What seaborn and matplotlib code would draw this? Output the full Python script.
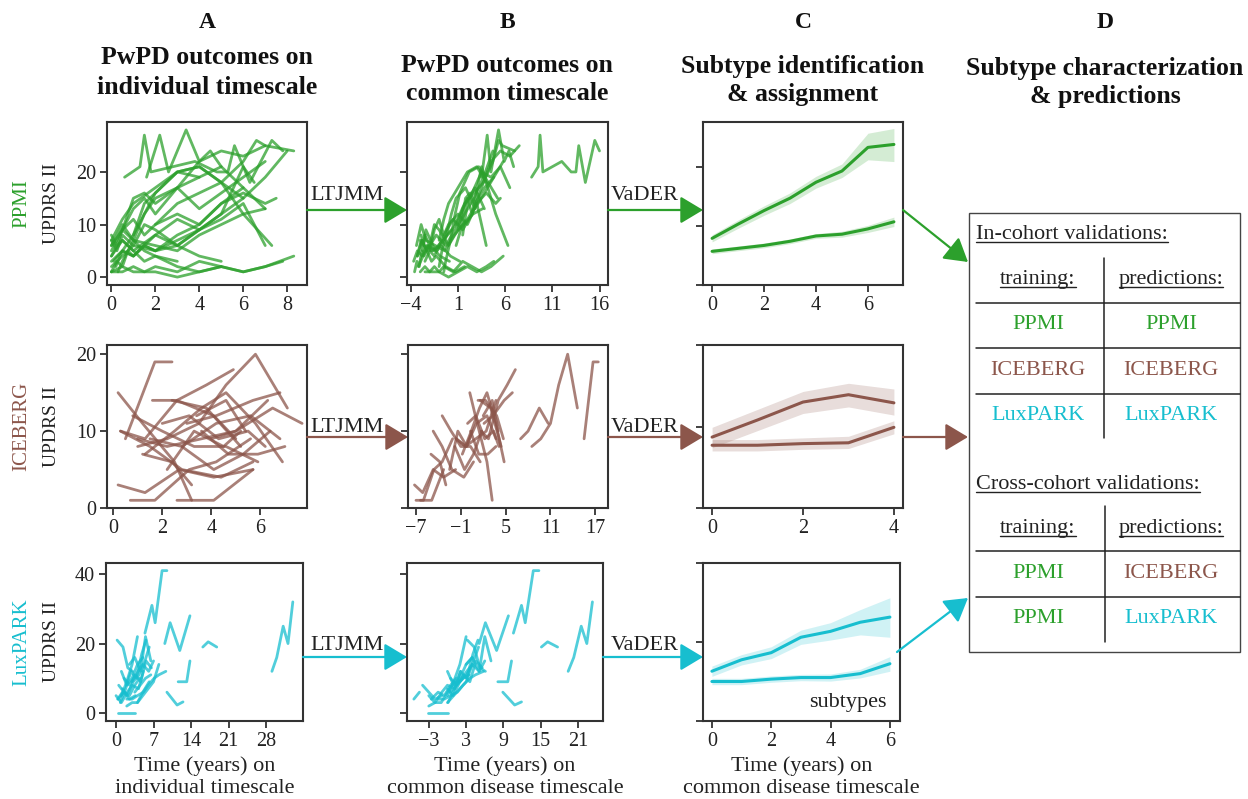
import numpy as np
import pandas as pd
import matplotlib
matplotlib.use("Agg")
import matplotlib.pyplot as plt
import seaborn as sns
from matplotlib.patches import FancyArrowPatch, Rectangle
from matplotlib.lines import Line2D

# ---------------- data ----------------
cohorts = ["PPMI", "ICEBERG", "LuxPARK"]
colors = {"PPMI": "#2ca02c", "ICEBERG": "#8c564b", "LuxPARK": "#17becf"}

ppmi_t = [
    [0, 0.25, 0.5, 0.75, 1, 1.5, 2, 3, 4],
    [0, 0.5, 1, 1.5, 2, 3, 4, 5, 6, 7, 8.3],
    [0, 0.25, 0.5, 1, 1.5, 2, 3],
    [0.1, 0.5, 1, 1.5, 2, 3, 4, 5],
    [0, 0.5, 1, 2, 3, 4, 5, 6, 7, 7.8],
    [0, 0.25, 0.5, 1, 2, 3, 4, 5, 6, 7],
    [0, 0.5, 1, 1.5, 2, 3, 4, 5],
    [0, 0.5, 1, 1.5, 2, 3, 4, 5, 6, 7, 7.5],
    [0.2, 0.5, 1, 1.5, 2, 3, 4, 5, 6, 7],
    [0, 0.5, 1, 2, 3, 4, 5, 6, 7.3],
    [0, 0.25, 0.5, 1, 2, 3, 4, 5, 6, 7, 8],
    [0.3, 0.5, 1, 1.5, 2, 3, 4, 5, 6],
    [0, 0.5, 1, 2, 3, 4, 5, 6, 6.5],
    [0.5, 1, 1.5, 2, 3, 4, 5, 6, 7],
    [1.6, 2.2, 2.6, 3.4, 4.0, 4.5, 5.0],
    [0.6, 1.3, 1.5, 1.8, 2.8, 3.8, 4.8, 5.3, 5.6, 6.3, 7.3, 7.8],
    [2, 3, 4, 5, 6, 6.6, 7, 8.3],
    [1, 1.5, 2, 3, 4, 5, 6],
    [0, 0.5, 1, 1.5, 2, 3, 4],
    [0, 0.5, 1, 2, 3, 4, 5, 6, 7],
    [0, 0.25, 0.5, 1, 1.5, 2, 3, 4, 5, 6, 7],
]
ppmi_y = [
    [1, 3, 2, 5, 4, 6, 5, 7, 9],
    [1, 1, 2, 1, 2, 1, 3, 2, 1, 2, 4],
    [8, 6, 9, 7, 5, 4, 3],
    [3, 5, 4, 6, 5, 6, 4, 3],
    [1, 2, 1, 1, 0, 1, 2, 1, 2, 3],
    [6, 8, 10, 7, 6, 5, 8, 10, 12, 13],
    [4, 7, 5, 3, 4, 2, 1, 2],
    [5, 9, 11, 8, 10, 12, 10, 14, 16, 14, 15],
    [2, 5, 8, 12, 15, 17, 13, 16, 19, 22],
    [7, 11, 14, 17, 20, 21, 18, 12, 6],
    [4, 6, 7, 5, 8, 6, 9, 12, 15, 19, 24],
    [1, 3, 7, 12, 16, 20, 21, 18, 15],
    [3, 5, 4, 8, 11, 9, 12, 21, 18],
    [9, 13, 15, 12, 17, 22, 24, 23, 25],
    [19, 27, 20, 28, 22, 24, 21],
    [19, 21, 27, 20, 21, 22, 20, 20, 25, 18, 26, 24],
    [10, 14, 16, 18, 22, 26, 25, 24],
    [8, 14, 16, 20, 19, 21, 17],
    [6, 9, 15, 16, 14, 17, 19],
    [2, 4, 6, 5, 8, 10, 14, 17, 13],
    [7, 5, 8, 6, 10, 9, 6, 9, 11, 14, 6],
]
ppmi_shift = [-3.6, -2.5, -2.9, -3.8, -3.0, -3.4, -3.3, -2.0, -1.2, -1.0, -3.3,
              -0.8, -2.5, 0.5, 1.9, 8.2, -1.3, 0.5, 0.8, -3.2, -3.0]

iceberg_t = [
    [0.2, 1.2, 2.5, 3.2],
    [0.5, 1.7, 2.4],
    [0.2, 1.3, 2.7, 4.1, 5.7],
    [0.7, 1.7, 3.1, 4.2, 5.6],
    [0.3, 1.3, 2.6, 3.8, 4.9],
    [1.6, 2.6, 4.1, 5.0],
    [1.0, 2.2, 3.5, 4.6, 5.8, 7.1],
    [2.6, 4.1, 5.7],
    [4.0, 5.0, 6.5, 7.7],
    [1.3, 2.5, 3.6, 4.6, 5.8, 6.9],
    [0.3, 1.5, 2.8, 4.4, 5.7],
    [1.5, 2.8, 4.2, 5.6, 6.8],
    [2.2, 3.3, 4.5, 5.2],
    [1.2, 2.4, 3.2],
    [3.0, 4.2, 5.7, 6.8],
    [2.0, 3.1, 4.3, 5.5, 6.2],
    [0.8, 2.0, 3.3, 4.6, 5.9],
    [2.8, 4.1, 5.3, 6.4],
    [3.4, 4.6, 5.4],
    [1.0, 2.2, 3.6, 5.0, 6.3],
    [3.6, 4.7, 5.9, 7.0],
    [2.4, 3.8, 5.2],
]
iceberg_y = [
    [15, 11, 6, 1],
    [9, 19, 19],
    [3, 2, 5, 4, 5],
    [1, 1, 5, 6, 9],
    [10, 9, 14, 16, 18],
    [14, 14, 12, 9],
    [8, 9, 11, 16, 20, 13],
    [1, 1, 5],
    [9, 10, 13, 11],
    [7, 10, 13, 15, 11, 6],
    [10, 8, 5, 4, 6],
    [9, 8, 11, 12, 9],
    [5, 10, 8, 10],
    [7, 6, 3],
    [11, 12, 14, 15],
    [11, 12, 9, 10, 8],
    [12, 10, 8, 8, 6],
    [8, 5, 7, 10],
    [12, 14, 10],
    [9, 8, 9, 10, 14],
    [10, 7, 7, 8],
    [14, 13, 8],
]
iceberg_shift = [0.0, 15.0, -7.4, -7.7, 1.4, -0.3, 7.5, -9.0, 3.0, -2.1, -5.0,
                 -3.1, -4.7, -6.2, -0.9, -2.1, -4.3, -4.6, -1.4, -2.6, -3.3, -0.8]

lux_t = [
    [0.2, 1.3, 2.2, 3.1],
    [0.4, 1.5, 2.5, 3.5, 4.4],
    [1.0, 2.0, 3.0, 4.0],
    [2.5, 3.5, 4.6, 5.5, 6.5],
    [0.0, 1.0, 2.1, 3.0, 4.2, 5.1],
    [1.5, 2.5, 3.6, 4.6, 5.6, 6.6],
    [0.5, 1.5, 2.5, 3.6],
    [2.0, 3.0, 4.0, 5.1, 6.0, 7.1, 8.0, 9.3],
    [3.0, 4.1, 5.0, 6.1, 7.0],
    [1.2, 2.1, 3.2, 4.3, 5.2, 6.2],
    [0.3, 1.2],
    [4.0, 5.0, 6.0, 7.0, 8.0],
    [0.3, 1.5, 2.5, 3.6],
    [2.0, 3.0, 4.0, 5.0, 6.2],
    [3.5, 4.5, 5.5, 6.5],
    [1.0, 2.0, 3.0, 4.0, 5.0],
    [0.8, 1.8, 2.8, 3.8, 4.8, 5.6],
    [5.4, 6.7, 7.3, 8.6, 9.5],
    [9.1, 10.1, 11.9, 13.8],
    [16.2, 17.2, 18.8],
    [11.6, 13.2, 13.8],
    [9.5, 11.4, 12.5],
    [29.1, 30.0, 31.2, 32.1, 33.0],
]
lux_y = [
    [21, 19, 13, 12],
    [4, 6, 5, 8, 10],
    [5, 9, 14, 22],
    [14, 16, 12, 22, 15],
    [5, 3, 6, 8, 7, 12],
    [10, 8, 11, 9, 15, 13],
    [8, 6, 4, 5],
    [4, 4, 5, 6, 8, 10, 11, 12],
    [9, 12, 14, 12, 15],
    [7, 5, 9, 11, 14, 19],
    [4, 6],
    [3, 5, 7, 9, 14],
    [0, 0, 0, 0],
    [2, 3, 3, 6, 9],
    [6, 8, 10, 11],
    [12, 8, 10, 14, 16],
    [3, 7, 12, 10, 17, 21],
    [23, 31, 26, 41, 41],
    [20, 26, 18, 28],
    [19, 20.5, 19],
    [9, 9, 15],
    [6, 2.3, 3.2],
    [12, 16, 25, 20, 32],
]
lux_shift = [3.0, -3.0, -1.0, 0.5, -3.0, -1.0, -4.5, -3.5, -1.0, -1.2, -5.7, -4.0,
             -3.5, -5.0, -3.0, -1.0, -0.7, 5.2, -4.0, -1.1, -3.5, -0.6, -9.7]

# subtype mean trajectories (VaDER) with confidence bands
ppmi_sub_t = [0, 1, 2, 3, 4, 5, 6, 7]
ppmi_fast = [7.9, 10.3, 12.6, 14.7, 17.4, 19.3, 23.3, 23.8]
ppmi_fast_lo = [7.3, 9.6, 11.8, 13.8, 16.4, 18.2, 21.2, 20.9]
ppmi_fast_hi = [8.5, 11.0, 13.4, 15.6, 18.4, 20.5, 25.7, 26.5]
ppmi_slow = [5.7, 6.2, 6.7, 7.4, 8.3, 8.6, 9.5, 10.7]
ppmi_slow_lo = [5.3, 5.8, 6.3, 7.0, 7.9, 8.1, 8.9, 9.9]
ppmi_slow_hi = [6.1, 6.6, 7.1, 7.8, 8.7, 9.1, 10.1, 11.5]

iceberg_sub_t = [0, 1, 2, 3, 4]
iceberg_fast = [8.7, 10.8, 13.0, 13.9, 12.9]
iceberg_fast_lo = [7.4, 9.5, 11.6, 12.4, 11.4]
iceberg_fast_hi = [9.9, 12.1, 14.3, 15.3, 14.6]
iceberg_slow = [7.7, 7.7, 7.9, 8.0, 9.9]
iceberg_slow_lo = [7.0, 7.0, 7.2, 7.3, 9.1]
iceberg_slow_hi = [8.4, 8.4, 8.6, 8.8, 10.7]

lux_sub_t = [0, 1, 2, 3, 4, 5, 6]
lux_fast = [12.6, 15.5, 17.3, 21.2, 22.7, 25.0, 26.3]
lux_fast_lo = [11.3, 14.2, 15.8, 19.4, 20.5, 21.8, 21.2]
lux_fast_hi = [13.9, 16.8, 18.8, 23.0, 24.9, 28.2, 31.2]
lux_slow = [10.0, 10.0, 10.6, 11.0, 11.0, 12.0, 14.5]
lux_slow_lo = [9.2, 9.2, 9.8, 10.2, 10.1, 10.9, 12.6]
lux_slow_hi = [10.8, 10.8, 11.4, 11.8, 11.9, 13.1, 16.3]

# ---------------- figure ----------------
sns.set_style("ticks")
plt.rcParams["font.family"] = ["Liberation Serif", "DejaVu Serif"]
plt.rcParams["axes.edgecolor"] = "#333333"
plt.rcParams["xtick.color"] = "#333333"
plt.rcParams["ytick.color"] = "#333333"

W, H = 1248, 799
fig = plt.figure(figsize=(W / 100, H / 100), dpi=100)


def fx(x):
    return x / W


def fy(y):
    return 1 - y / H


def add_axes(l, t, r, b):
    return fig.add_axes([fx(l), fy(b), (r - l) / W, (b - t) / H])


def traj_frame(times, vals, shifts):
    rows = []
    for i, (tt, yy, s) in enumerate(zip(times, vals, shifts)):
        for a, v in zip(tt, yy):
            rows.append({"sid": i, "t": a, "tc": a + s, "y": v})
    return pd.DataFrame(rows)


data = {
    "PPMI": traj_frame(ppmi_t, ppmi_y, ppmi_shift),
    "ICEBERG": traj_frame(iceberg_t, iceberg_y, iceberg_shift),
    "LuxPARK": traj_frame(lux_t, lux_y, lux_shift),
}
subs = {
    "PPMI": (ppmi_sub_t, ppmi_fast, ppmi_fast_lo, ppmi_fast_hi, ppmi_slow, ppmi_slow_lo, ppmi_slow_hi),
    "ICEBERG": (iceberg_sub_t, iceberg_fast, iceberg_fast_lo, iceberg_fast_hi, iceberg_slow, iceberg_slow_lo, iceberg_slow_hi),
    "LuxPARK": (lux_sub_t, lux_fast, lux_fast_lo, lux_fast_hi, lux_slow, lux_slow_lo, lux_slow_hi),
}

row_tb = [(122, 285), (345, 508), (563, 721)]
col_lr = [[(107, 307), (407, 608), (703, 903)],
          [(107, 307), (408, 608), (703, 903)],
          [(106, 303), (407, 603), (703, 900)]]

ylims_ab = [(-1.5, 29.5), (0, 21.2), (-2.3, 43.2)]
yticks_ab = [[0, 10, 20], [0, 10, 20], [0, 20, 40]]
xlims_a = [(-0.2, 8.9), (-0.25, 7.9), (-1.87, 34.9)]
xticks_a = [[0, 2, 4, 6, 8], [0, 2, 4, 6], [0, 7, 14, 21, 28]]
xlims_b = [(-4.4, 16.9), (-8.07, 18.7), (-6.5, 25)]
xticks_b = [[-4, 1, 6, 11, 16], [-7, -1, 5, 11, 17], [-3, 3, 9, 15, 21]]
ylims_c = [(0, 27.6), (0, 20), (0, 40)]
yticks_c = [[0, 10, 20], [0, 10, 20], [0, 20, 40]]
xlims_c = [(-0.35, 7.35), (-0.2, 4.2), (-0.3, 6.34)]
xticks_c = [[0, 2, 4, 6], [0, 2, 4], [0, 2, 4, 6]]

TXT = "#222222"
TICKFS = 14.5
LABFS = 16


def style(ax):
    for sp in ax.spines.values():
        sp.set_linewidth(1.5)
        sp.set_color("#333333")
        sp.set_visible(True)
    ax.tick_params(direction="out", length=5, width=1.3, labelsize=TICKFS, labelcolor=TXT, pad=3)


for r, coh in enumerate(cohorts):
    c = colors[coh]
    top, bot = row_tb[r]
    df = data[coh]
    # A
    (l, rr) = col_lr[r][0]
    axA = add_axes(l, top, rr, bot)
    sns.lineplot(data=df, x="t", y="y", units="sid", estimator=None, sort=False,
                 color=c, lw=2, alpha=0.75, ax=axA, legend=False)
    axA.set_xlim(*xlims_a[r]); axA.set_ylim(*ylims_ab[r])
    axA.set_xticks(xticks_a[r]); axA.set_yticks(yticks_ab[r])
    axA.set_xlabel(""); axA.set_ylabel("")
    style(axA)
    # B
    (l, rr) = col_lr[r][1]
    axB = add_axes(l, top, rr, bot)
    sns.lineplot(data=df, x="tc", y="y", units="sid", estimator=None, sort=False,
                 color=c, lw=2, alpha=0.75, ax=axB, legend=False)
    axB.set_xlim(*xlims_b[r]); axB.set_ylim(*ylims_ab[r])
    axB.set_xticks(xticks_b[r]); axB.set_yticks(yticks_ab[r])
    axB.set_xlabel(""); axB.set_ylabel("")
    style(axB)
    axB.tick_params(labelleft=False)
    # C
    (l, rr) = col_lr[r][2]
    axC = add_axes(l, top, rr, bot)
    st, fm, flo, fhi, sm, slo, shi = subs[coh]
    for m, lo, hi in ((fm, flo, fhi), (sm, slo, shi)):
        axC.fill_between(st, lo, hi, color=c, alpha=0.2, lw=0)
        sns.lineplot(x=st, y=m, color=c, lw=2.2, ax=axC, legend=False)
    axC.set_xlim(*xlims_c[r]); axC.set_ylim(*ylims_c[r])
    axC.set_xticks(xticks_c[r]); axC.set_yticks(yticks_c[r])
    style(axC)
    axC.tick_params(labelleft=False)
    if r == 2:
        kw = dict(fontsize=LABFS, color=TXT, labelpad=4, linespacing=1.15)
        axA.set_xlabel("Time (years) on\nindividual timescale", **kw)
        axB.set_xlabel("Time (years) on\ncommon disease timescale", **kw)
        axC.set_xlabel("Time (years) on\ncommon disease timescale", **kw)
        axC.text(0.93, 0.06, "subtypes", transform=axC.transAxes, ha="right", va="bottom",
                 fontsize=LABFS, color=TXT)
    # row labels
    yc = (top + bot) / 2
    fig.text(fx(52), fy(yc), "UPDRS II", rotation=90, ha="center", va="center", fontsize=14, color=TXT)
    fig.text(fx(22), fy(yc), coh, rotation=90, ha="center", va="center", fontsize=15, color=c)

# ---------------- column titles ----------------
titles = [
    (207, "A", ["PwPD outcomes on", "individual timescale"], [57, 87]),
    (507, "B", ["PwPD outcomes on", "common timescale"], [66, 93]),
    (803, "C", ["Subtype identification", "& assignment"], [66, 94]),
    (1105, "D", ["Subtype characterization", "& predictions"], [68, 97]),
]
for x, letter, lines, ys in titles:
    fig.text(fx(x), fy(23), letter, ha="center", va="center", fontsize=17, fontweight="bold", color="#111111")
    for ln, yy in zip(lines, ys):
        fig.text(fx(x), fy(yy), ln, ha="center", va="center", fontsize=18.5, fontweight="bold", color="#111111")

# ---------------- arrows ----------------
def arrow(x0, y0, x1, y1, c):
    a = FancyArrowPatch((fx(x0), fy(y0)), (fx(x1), fy(y1)), transform=fig.transFigure,
                        arrowstyle="-|>,head_length=0.7,head_width=0.42", mutation_scale=20,
                        color=c, lw=1.6, shrinkA=0, shrinkB=0)
    fig.add_artist(a)


arrow_rows = [
    dict(y=210, l1=(307, 407), l2=(608, 703), d=((903, 210), (968, 262)), ty=195),
    dict(y=437, l1=(307, 408), l2=(608, 703), d=((903, 437), (968, 437)), ty=427),
    dict(y=657, l1=(303, 407), l2=(603, 703), d=((897, 652), (968, 598)), ty=645),
]
for coh, ar in zip(cohorts, arrow_rows):
    c = colors[coh]
    arrow(ar["l1"][0], ar["y"], ar["l1"][1], ar["y"], c)
    arrow(ar["l2"][0], ar["y"], ar["l2"][1], ar["y"], c)
    arrow(ar["d"][0][0], ar["d"][0][1], ar["d"][1][0], ar["d"][1][1], c)
    fig.text(fx(347), fy(ar["ty"]), "LTJMM", ha="center", va="center", fontsize=LABFS, color=TXT)
    fig.text(fx(645), fy(ar["ty"]), "VaDER", ha="center", va="center", fontsize=LABFS, color=TXT)

# ---------------- table (panel D) ----------------
fig.add_artist(Rectangle((fx(969), fy(652)), (1240 - 969) / W, (652 - 213) / H,
                         transform=fig.transFigure, fill=False, ec="#444444", lw=1.0))

in_train = ["PPMI", "ICEBERG", "LuxPARK"]
in_pred = ["PPMI", "ICEBERG", "LuxPARK"]
cross_train = ["PPMI", "PPMI"]
cross_pred = ["ICEBERG", "LuxPARK"]

underlined = []
TFS = 16


def ttext(x, y, s, color=TXT, ha="center", ul=False):
    t = fig.text(fx(x), fy(y + 7), s, ha=ha, va="baseline", fontsize=TFS, color=color)
    if ul:
        underlined.append((t, y + 7))
    return t


def hline(y, x0=976, x1=1240):
    fig.add_artist(Line2D([fx(x0), fx(x1)], [fy(y), fy(y)], transform=fig.transFigure, color="#222222", lw=1.1))


def vline(x, y0, y1):
    fig.add_artist(Line2D([fx(x), fx(x)], [fy(y0), fy(y1)], transform=fig.transFigure, color="#222222", lw=1.1))


ttext(976, 232, "In-cohort validations:", ha="left", ul=True)
ttext(1038, 277, "training:", ul=True)
ttext(1171, 277, "predictions:", ul=True)
for yy in (303, 348, 394):
    hline(yy)
for yy, a, b in zip((322, 368, 413), in_train, in_pred):
    ttext(1038, yy, a, color=colors[a])
    ttext(1171, yy, b, color=colors[b])
vline(1104, 258, 438)

ttext(976, 482, "Cross-cohort validations:", ha="left", ul=True)
ttext(1038, 526, "training:", ul=True)
ttext(1171, 526, "predictions:", ul=True)
for yy in (551, 597):
    hline(yy)
for yy, a, b in zip((571, 616), cross_train, cross_pred):
    ttext(1038, yy, a, color=colors[a])
    ttext(1171, yy, b, color=colors[b])
vline(1105, 506, 642)

fig.canvas.draw()
rend = fig.canvas.get_renderer()
for t, base in underlined:
    bb = t.get_window_extent(renderer=rend)
    yline = base + 3
    fig.add_artist(Line2D([bb.x0 / W, bb.x1 / W], [fy(yline), fy(yline)], transform=fig.transFigure,
                          color="#222222", lw=1.0))

fig.savefig("out.png", dpi=100)
